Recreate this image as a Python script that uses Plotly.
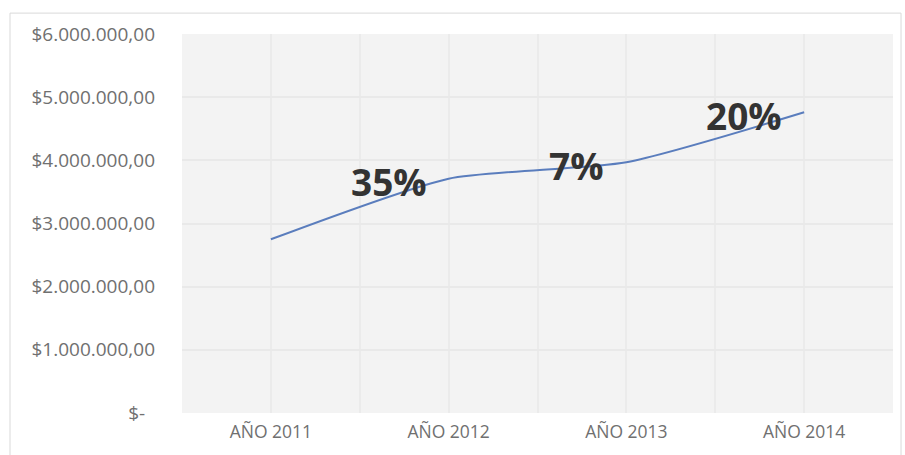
import plotly.graph_objects as go

# Annual totals and year-over-year growth labels
years = ["AÑO 2011", "AÑO 2012", "AÑO 2013", "AÑO 2014"]
totals = [2750000, 3710000, 3970000, 4760000]
growth_labels = ["35%", "7%", "20%"]

y_ticks = [0, 1000000, 2000000, 3000000, 4000000, 5000000, 6000000]
y_tick_text = ["$-\u00a0\u00a0", "$1.000.000,00", "$2.000.000,00", "$3.000.000,00",
               "$4.000.000,00", "$5.000.000,00", "$6.000.000,00"]

x_pos = list(range(len(years)))

fig = go.Figure()
fig.add_trace(go.Scatter(
    x=x_pos, y=totals, mode="lines",
    line=dict(color="#5a7dbd", width=2, shape="spline", smoothing=0.6),
    hoverinfo="skip", showlegend=False,
))

# Growth percentage labels sit just left of each year's point
for i, label in enumerate(growth_labels):
    fig.add_annotation(
        x=x_pos[i + 1], y=totals[i + 1], text=label, showarrow=False,
        xanchor="right", yanchor="middle", xshift=-20, yshift=-3,
        font=dict(family="Open Sans", size=37, color="#333333", weight="bold"),
    )

# Outer chart frame
fig.add_shape(type="rect", xref="paper", yref="paper",
              x0=-0.2419, x1=1.0113, y0=-0.2, y1=1.0551,
              line=dict(color="#d9d9d9", width=1), fillcolor="rgba(0,0,0,0)", layer="below")

fig.update_layout(
    width=905, height=455,
    margin=dict(l=182, r=12, t=34, b=40),
    paper_bgcolor="white", plot_bgcolor="#f3f3f3",
    font=dict(family="Open Sans", size=16.5, color="#707070"),
    xaxis=dict(
        range=[-0.5, 3.5], tickvals=x_pos, ticktext=years,
        tickfont=dict(size=17.5),
        showgrid=True, gridcolor="#ebebeb", gridwidth=2,
        minor=dict(tick0=-0.5, dtick=1, showgrid=True, gridcolor="#ebebeb", gridwidth=2),
        zeroline=False, showline=False, ticks="", ticklabelstandoff=6,
        fixedrange=True,
    ),
    yaxis=dict(
        range=[0, 6000000], tickvals=y_ticks, ticktext=y_tick_text,
        tickfont=dict(size=19),
        showgrid=True, gridcolor="#e9e9e9", gridwidth=2,
        zeroline=False, showline=False, ticks="", ticklabelstandoff=26,
        fixedrange=True,
    ),
)

fig.write_html("out.html")
